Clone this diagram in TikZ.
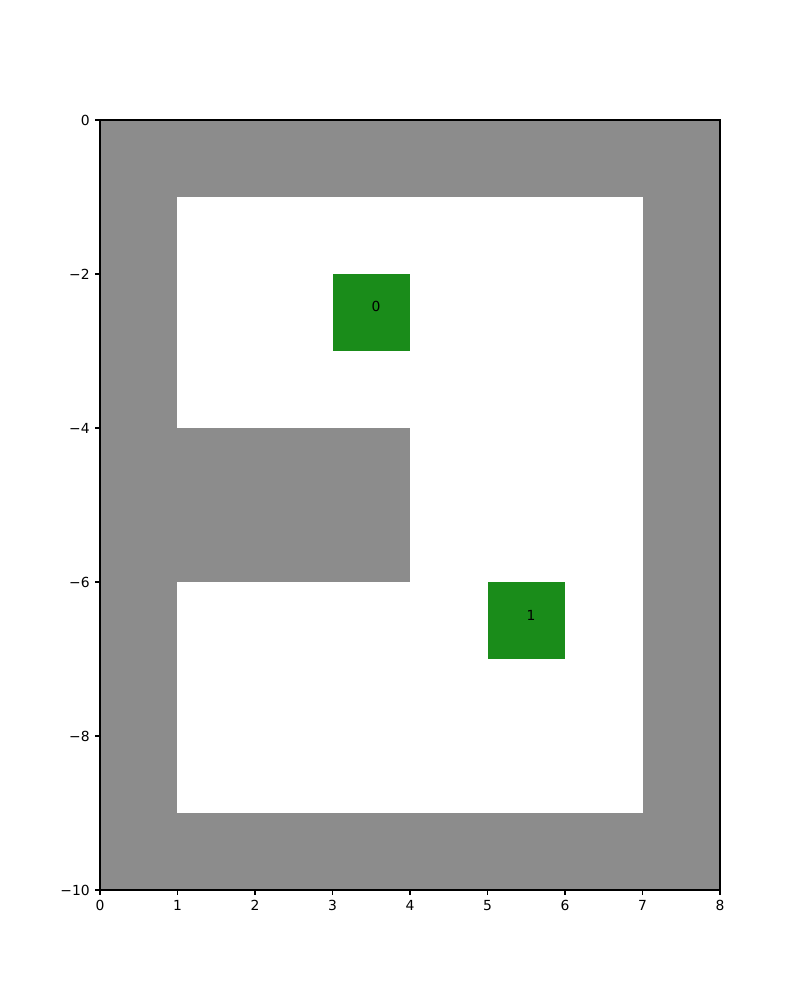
\documentclass[tikz,border=0pt]{standalone}
\usepackage{fontspec}
\setmainfont{DejaVu Sans}
\definecolor{wallgray}{HTML}{8C8C8C}
\definecolor{goalgreen}{HTML}{1A8C1A}
\tikzset{
  tick/.style={line width=0.63pt},
  goal/.style={anchor=south west, inner sep=0pt}
}
\begin{document}
\begin{tikzpicture}[x=1.55cm, y=1.54cm, font=\fontsize{7.9}{9}\selectfont]
  \useasboundingbox (-1.2903,1.5584) rectangle (9.0323,-11.4286);
  % walls and free space
  \fill[wallgray] (0,0) rectangle (8,-10);
  \fill[white] (1,-1) rectangle (7,-9);
  \fill[wallgray] (1,-4) rectangle (4,-6);
  % goals
  \fill[goalgreen] (3,-2) rectangle (4,-3);
  \fill[goalgreen] (5,-6) rectangle (6,-7);
  \node[goal] (goal0) at (3.5,-2.5) {0};
  \node[goal] (goal1) at (5.5,-6.5) {1};
  % axes
  \draw[tick] (0,0) rectangle (8,-10);
  \foreach \x in {0,...,8}
    \draw[tick] (\x,-10) -- ++(0,-0.097cm) node[below=2.8pt, inner sep=0pt] {\x};
  \foreach \y/\t in {0/0,-2/−2,-4/−4,-6/−6,-8/−8,-10/−10}
    \draw[tick] (0,\y) -- ++(-0.097cm,0) node[left=2.8pt, inner sep=0pt] {\t};
\end{tikzpicture}
\end{document}
